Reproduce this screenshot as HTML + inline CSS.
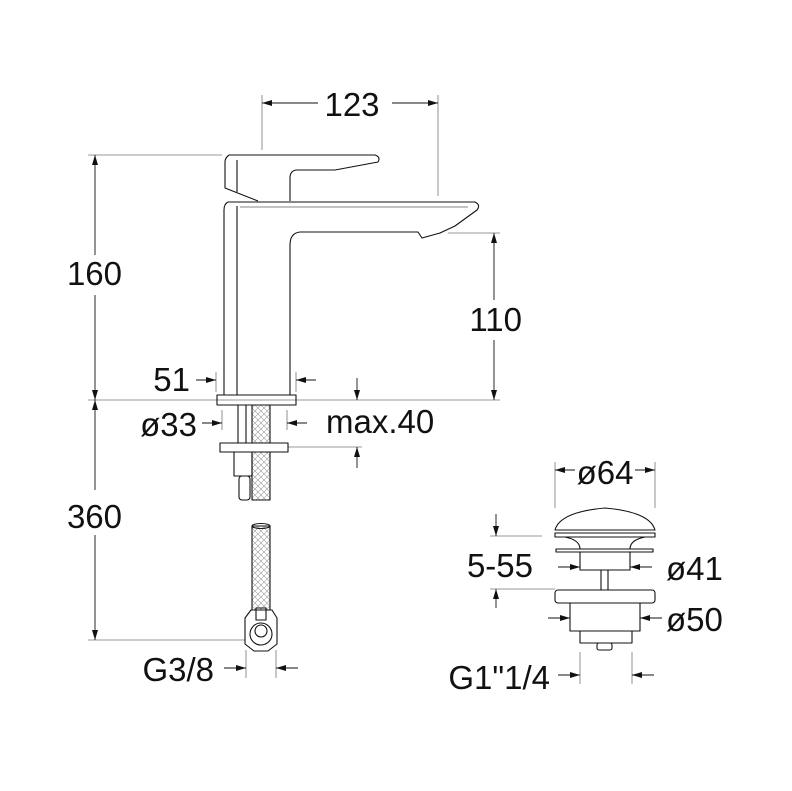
<!DOCTYPE html>
<html><head><meta charset="utf-8"><style>
html,body{margin:0;padding:0;background:#fff;}
svg{display:block;}
text{font-family:"Liberation Sans",sans-serif;font-size:33px;fill:#111;}
</style></head><body>
<svg width="792" height="791" viewBox="0 0 792 791" xmlns="http://www.w3.org/2000/svg">
<defs>
<marker id="a" viewBox="0 0 10 6" refX="10" refY="3" markerWidth="10" markerHeight="6" markerUnits="userSpaceOnUse" orient="auto"><path d="M0,0 L10,3 L0,6 z" fill="#111"/></marker>
<pattern id="h" width="6" height="6" patternUnits="userSpaceOnUse"><path d="M0,0 L6,6 M6,0 L0,6" stroke="#999" stroke-width="0.6"/></pattern>
</defs>
<g stroke="#777" stroke-width="0.8" fill="none">
<line x1="262" y1="95" x2="262" y2="150"/>
<line x1="438" y1="95" x2="438" y2="196"/>
<line x1="88" y1="155" x2="222" y2="155"/>
<line x1="88" y1="400" x2="500" y2="400"/>
<line x1="448" y1="233" x2="500" y2="233"/>
<line x1="88" y1="640" x2="245" y2="640"/>
<line x1="288" y1="447" x2="362" y2="447"/>
<line x1="216" y1="372" x2="216" y2="392"/>
<line x1="296" y1="372" x2="296" y2="392"/>
<line x1="222" y1="410" x2="222" y2="430"/>
<line x1="287" y1="410" x2="287" y2="430"/>
<line x1="246" y1="650" x2="246" y2="678"/>
<line x1="276" y1="650" x2="276" y2="678"/>
<line x1="555" y1="462" x2="555" y2="508"/>
<line x1="655" y1="462" x2="655" y2="508"/>
<line x1="490" y1="536" x2="542" y2="536"/>
<line x1="490" y1="589" x2="555" y2="589"/>
<line x1="580" y1="652" x2="580" y2="684"/>
<line x1="632" y1="652" x2="632" y2="684"/>
</g>
<g stroke="#111" stroke-width="0.9" fill="none">
<line x1="318" y1="103" x2="262" y2="103" marker-end="url(#a)"/>
<line x1="392" y1="103" x2="438" y2="103" marker-end="url(#a)"/>
<line x1="95" y1="255" x2="95" y2="155" marker-end="url(#a)"/>
<line x1="95" y1="295" x2="95" y2="400" marker-end="url(#a)"/>
<line x1="494" y1="300" x2="494" y2="233" marker-end="url(#a)"/>
<line x1="494" y1="340" x2="494" y2="400" marker-end="url(#a)"/>
<line x1="95" y1="490" x2="95" y2="400" marker-end="url(#a)"/>
<line x1="95" y1="535" x2="95" y2="640" marker-end="url(#a)"/>
<line x1="196" y1="380" x2="216" y2="380" marker-end="url(#a)"/>
<line x1="316" y1="380" x2="296" y2="380" marker-end="url(#a)"/>
<line x1="202" y1="423" x2="222" y2="423" marker-end="url(#a)"/>
<line x1="307" y1="423" x2="287" y2="423" marker-end="url(#a)"/>
<line x1="357" y1="378" x2="357" y2="400" marker-end="url(#a)"/>
<line x1="357" y1="468" x2="357" y2="447" marker-end="url(#a)"/>
<line x1="224" y1="668" x2="246" y2="668" marker-end="url(#a)"/>
<line x1="298" y1="668" x2="276" y2="668" marker-end="url(#a)"/>
<line x1="575" y1="470" x2="555" y2="470" marker-end="url(#a)"/>
<line x1="635" y1="470" x2="655" y2="470" marker-end="url(#a)"/>
<line x1="496" y1="514" x2="496" y2="536" marker-end="url(#a)"/>
<line x1="496" y1="608" x2="496" y2="589" marker-end="url(#a)"/>
<line x1="558" y1="567" x2="580" y2="567" marker-end="url(#a)"/>
<line x1="652" y1="567" x2="630" y2="567" marker-end="url(#a)"/>
<line x1="548" y1="618" x2="570" y2="618" marker-end="url(#a)"/>
<line x1="662" y1="618" x2="640" y2="618" marker-end="url(#a)"/>
<line x1="558" y1="675" x2="580" y2="675" marker-end="url(#a)"/>
<line x1="654" y1="675" x2="632" y2="675" marker-end="url(#a)"/>
</g>
<g stroke="#111" stroke-width="1.1" fill="none" stroke-linejoin="round">
<path d="M229,155 L375,155 Q381,157 378,162 L335,170 L296,170 Q290,171 290,178 L290,201"/>
<path d="M229,155 Q225,158 225,162 L225,188 L258,201"/>
<line x1="237" y1="160" x2="237" y2="192"/>
<path d="M228,202 L475,202 Q481,205 477,210 L455,226 L440,233 L422,238 L418,232 L300,232 Q290,233 290,245 L290,395"/>
<path d="M228,202 Q224,204 224,210 L224,395"/>
<line x1="237" y1="206" x2="237" y2="395"/>
<line x1="240" y1="207" x2="468" y2="207" stroke-width="0.6"/>
<rect x="217" y="395" width="79" height="10"/>
<rect x="238" y="405" width="8" height="38"/>
<rect x="252" y="405" width="18" height="38" fill="url(#h)"/>
<rect x="220" y="443" width="68" height="9"/>
<rect x="252" y="452" width="18" height="48" fill="url(#h)"/>
<rect x="234" y="452" width="18" height="24"/>
<rect x="239" y="476" width="11" height="24" rx="3"/>
<rect x="252" y="526" width="18" height="84" fill="url(#h)"/>
<ellipse cx="261" cy="526" rx="9" ry="2.5"/>
<rect x="256" y="608" width="10" height="12"/>
<path d="M251,610 L272,610 L277,618 L277,644 L268,651 L254,651 L245,644 L245,618 Z"/>
<circle cx="261" cy="634" r="11"/>
<circle cx="261" cy="631" r="6"/>
<path d="M555,530 Q560,512 605,508 Q650,512 655,530 Z"/>
<rect x="555" y="533" width="100" height="4"/>
<path d="M565,537 Q580,540 580,549 M645,537 Q630,540 630,549"/>
<rect x="556" y="549" width="97" height="3"/>
<rect x="580" y="552" width="50" height="18"/>
<rect x="601" y="570" width="7" height="20"/>
<rect x="555" y="590" width="100" height="13" rx="3"/>
<rect x="570" y="603" width="70" height="28"/>
<rect x="580" y="631" width="52" height="12"/>
<rect x="597" y="643" width="15" height="7" rx="2"/>
</g>
<text x="352" y="116" text-anchor="middle">123</text>
<text x="122" y="285" text-anchor="end">160</text>
<text x="522" y="331" text-anchor="end">110</text>
<text x="122" y="528" text-anchor="end">360</text>
<text x="190" y="391" text-anchor="end">51</text>
<text x="197" y="436" text-anchor="end">ø33</text>
<text x="326" y="433">max.40</text>
<text x="214" y="681" text-anchor="end">G3/8</text>
<text x="605" y="484" text-anchor="middle">ø64</text>
<text x="533" y="577" text-anchor="end">5-55</text>
<text x="666" y="580">ø41</text>
<text x="666" y="631">ø50</text>
<text x="550" y="689" text-anchor="end">G1"1/4</text>
</svg>
</body></html>
